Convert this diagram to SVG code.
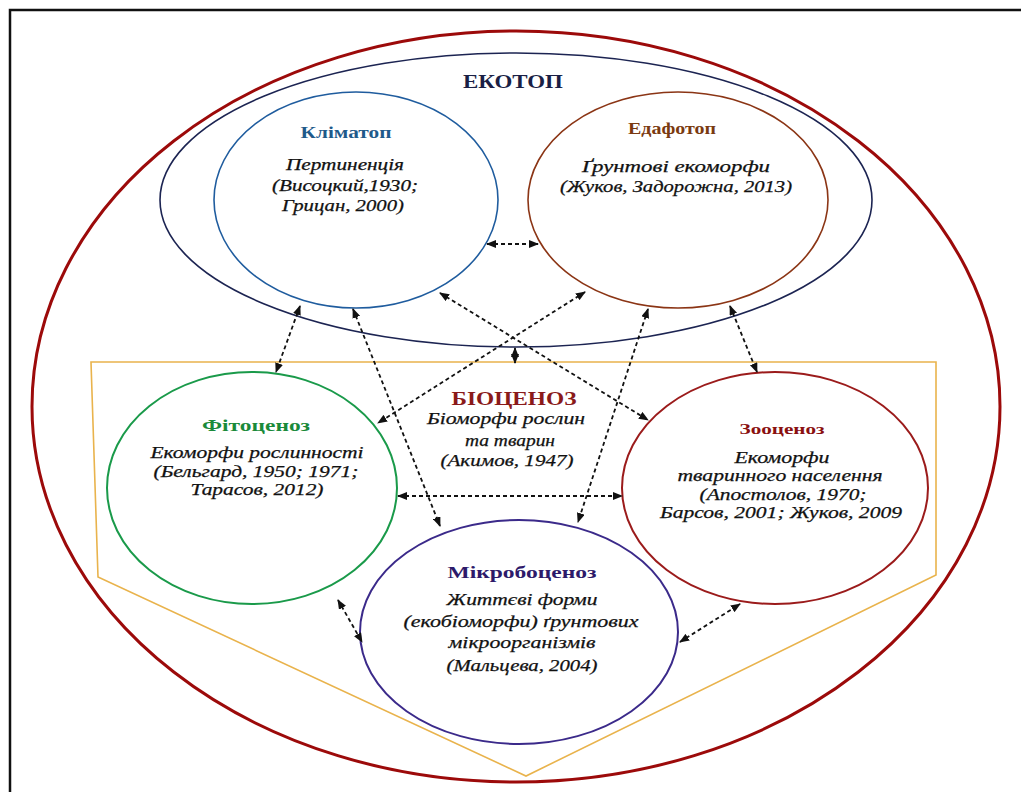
<svg xmlns="http://www.w3.org/2000/svg" width="1021" height="792" viewBox="0 0 1021 792">
<style>
  text { font-family: "Liberation Serif", "Times New Roman", serif; text-anchor: middle; }
  .title { font-weight: bold; font-size: 16px; }
  .body { font-style: italic; font-size: 16px; fill: #111; stroke: #111; stroke-width: 0.25; }
  .conn { fill: none; stroke: #111; stroke-width: 1.8; stroke-dasharray: 4 3; marker-start: url(#ah); marker-end: url(#ah); }
</style>
<defs>
  <marker id="ah" viewBox="0 0 10 8" refX="9" refY="4" markerWidth="10" markerHeight="8" markerUnits="userSpaceOnUse" orient="auto-start-reverse">
    <path d="M0,0 L10,4 L0,8 z" fill="#111"/>
  </marker>
</defs>
<rect x="0" y="0" width="1021" height="792" fill="#fff"/>
<path d="M10,800 L10,10 L1030,10" fill="none" stroke="#111" stroke-width="2.5"/>

<g id="outer">
  <ellipse cx="516" cy="406.5" rx="484" ry="375.5" fill="none" stroke="#9c0a0a" stroke-width="3"/>
</g>
<g id="ekotop">
  <ellipse cx="516" cy="200" rx="356" ry="147" fill="none" stroke="#1c2452" stroke-width="1.6"/>
  <text x="513" y="88" class="title" style="font-size:19px" fill="#1a1f45" textLength="100" lengthAdjust="spacingAndGlyphs">ЕКОТОП</text>
</g>
<g id="biocenoz">
  <path d="M91,362 L936,362 L936,575 L526,776 L98,577 Z" fill="none" stroke="#e9b34c" stroke-width="1.6"/>
  <text x="514" y="405" class="title" style="font-size:18px" fill="#8a1a1a" textLength="125" lengthAdjust="spacingAndGlyphs">БІОЦЕНОЗ</text>
  <text x="506" y="424" class="body" textLength="158" lengthAdjust="spacingAndGlyphs">Біоморфи рослин</text>
  <text x="510" y="446" class="body" textLength="90" lengthAdjust="spacingAndGlyphs">та тварин</text>
  <text x="507" y="466" class="body" textLength="133" lengthAdjust="spacingAndGlyphs">(Акимов, 1947)</text>
</g>
<g id="klimatop">
  <ellipse cx="356" cy="200" rx="142" ry="108" fill="none" stroke="#1f5c9e" stroke-width="1.6"/>
  <text x="346" y="138" class="title" fill="#1f5a8a" textLength="91" lengthAdjust="spacingAndGlyphs">Кліматоп</text>
  <text x="345" y="170" class="body" textLength="118" lengthAdjust="spacingAndGlyphs">Пертиненція</text>
  <text x="345" y="191" class="body" textLength="146" lengthAdjust="spacingAndGlyphs">(Висоцкий,1930;</text>
  <text x="343" y="211" class="body" textLength="122" lengthAdjust="spacingAndGlyphs">Грицан, 2000)</text>
</g>
<g id="edafotop">
  <ellipse cx="678" cy="200" rx="150" ry="108" fill="none" stroke="#8b3515" stroke-width="1.6"/>
  <text x="672" y="134" class="title" fill="#7a3a10" textLength="88" lengthAdjust="spacingAndGlyphs">Едафотоп</text>
  <text x="676" y="172" class="body" textLength="188" lengthAdjust="spacingAndGlyphs">Ґрунтові екоморфи</text>
  <text x="676" y="192" class="body" textLength="232" lengthAdjust="spacingAndGlyphs">(Жуков, Задорожна, 2013)</text>
</g>
<g id="fitocenoz">
  <ellipse cx="252" cy="488" rx="145" ry="116" fill="none" stroke="#1a9a4a" stroke-width="2"/>
  <text x="256" y="431" class="title" fill="#1a8a3a" textLength="108" lengthAdjust="spacingAndGlyphs">Фітоценоз</text>
  <text x="257" y="458" class="body" textLength="213" lengthAdjust="spacingAndGlyphs">Екоморфи рослинності</text>
  <text x="256" y="477" class="body" textLength="205" lengthAdjust="spacingAndGlyphs">(Бельгард, 1950; 1971;</text>
  <text x="257" y="495" class="body" textLength="133" lengthAdjust="spacingAndGlyphs">Тарасов, 2012)</text>
</g>
<g id="zoocenoz">
  <ellipse cx="775" cy="488" rx="153" ry="116" fill="none" stroke="#9b1b1b" stroke-width="2"/>
  <text x="782" y="434" class="title" style="font-size:14px" fill="#8a1010" textLength="85" lengthAdjust="spacingAndGlyphs">Зооценоз</text>
  <text x="782" y="463" class="body" textLength="95" lengthAdjust="spacingAndGlyphs">Екоморфи</text>
  <text x="780" y="481" class="body" textLength="205" lengthAdjust="spacingAndGlyphs">тваринного населення</text>
  <text x="783" y="500" class="body" textLength="167" lengthAdjust="spacingAndGlyphs">(Апостолов, 1970;</text>
  <text x="781" y="518" class="body" textLength="242" lengthAdjust="spacingAndGlyphs">Барсов, 2001; Жуков, 2009</text>
</g>
<g id="mikrobocenoz">
  <ellipse cx="519" cy="632" rx="159" ry="112" fill="none" stroke="#3b2a8a" stroke-width="2"/>
  <text x="522" y="578" class="title" style="font-size:17px" fill="#2d1a6a" textLength="149" lengthAdjust="spacingAndGlyphs">Мікробоценоз</text>
  <text x="522" y="605" class="body" textLength="151" lengthAdjust="spacingAndGlyphs">Життєві форми</text>
  <text x="521" y="627" class="body" textLength="235" lengthAdjust="spacingAndGlyphs">(екобіоморфи) ґрунтових</text>
  <text x="522" y="648" class="body" textLength="147" lengthAdjust="spacingAndGlyphs">мікроорганізмів</text>
  <text x="522" y="671" class="body" textLength="151" lengthAdjust="spacingAndGlyphs">(Мальцева, 2004)</text>
</g>
<g id="connectors">
  <line class="conn" x1="487" y1="244" x2="538" y2="244"/>
  <line class="conn" x1="300" y1="306" x2="276" y2="372"/>
  <line class="conn" x1="353" y1="309" x2="440" y2="526"/>
  <line class="conn" x1="440" y1="293" x2="648" y2="420"/>
  <line class="conn" x1="585" y1="292" x2="378" y2="423"/>
  <line class="conn" x1="648" y1="309" x2="578" y2="522"/>
  <line class="conn" x1="730" y1="306" x2="757" y2="372"/>
  <line class="conn" x1="515" y1="348" x2="515" y2="363"/>
  <line class="conn" x1="398" y1="496" x2="622" y2="496"/>
  <line class="conn" x1="338" y1="600" x2="362" y2="642"/>
  <line class="conn" x1="680" y1="642" x2="740" y2="604"/>
</g>
</svg>
